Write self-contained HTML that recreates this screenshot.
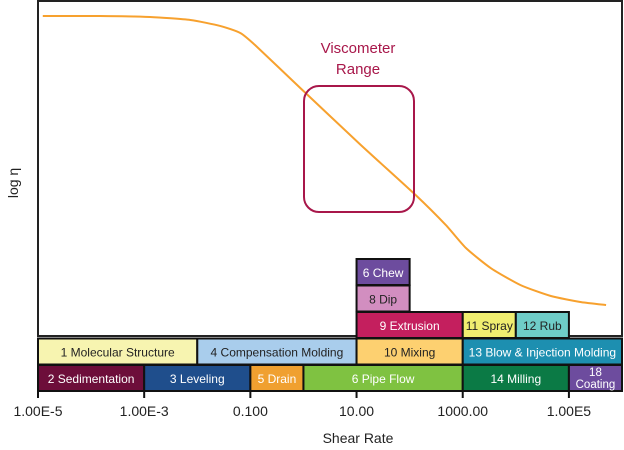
<!DOCTYPE html>
<html><head><meta charset="utf-8"><style>
body{margin:0;background:#fff;}
svg{display:block;font-family:"Liberation Sans",sans-serif;}
</style></head><body>
<svg id="c" width="624" height="450" viewBox="0 0 624 450"></svg>
<script>
// Data (log10 shear rate, relative log viscosity)
const tickDecades=[-5,-3,-1,1,3,5];
const tickLabels=["1.00E-5","1.00E-3","0.100","10.00","1000.00","1.00E5"];
const curveLogShear=[-4.91,-3.83,-2.89,-2.13,-1.57,-1.19,-0.91,-0.06,1.08,2.11,2.68,3.06,3.53,4.09,4.66,5.23,5.70];
const curveLogEta=[10,10,9.97,9.875,9.69,9.47,9.09,7.75,5.97,4.41,3.47,2.75,2.12,1.59,1.25,1.06,0.97];
const bandNames=["1 Molecular Structure","4 Compensation Molding","2 Sedimentation","3 Leveling","5 Drain","6 Pipe Flow","10 Mixing","13 Blow & Injection Molding","14 Milling","18|Coating","9 Extrusion","11 Spray","12 Rub","8 Dip","6 Chew"];
const bandStart=[-5,-2,-5,-3,-1,0,1,3,3,5,1,3,4,1,1];
const bandEnd=[-2,1,-3,-1,0,3,3,6,5,6,3,4,5,2,2];
const bandRow=[1,1,0,0,0,0,1,1,0,0,2,2,2,3,4];
const bandFill=["#f7f4b0","#a9cdec","#6d0e3a","#1f4e8c","#f0a030","#7fc241","#fdd070","#1d8fb0","#0b7a45","#6d4c9e","#c41f5e","#f0ee70","#6fcdc8","#d28ec0","#6d4c9e"];
const bandText=["#222","#222","#fff","#fff","#fff","#fff","#222","#fff","#fff","#fff","#fff","#222","#222","#222","#fff"];

const NS="http://www.w3.org/2000/svg";
const svg=document.getElementById('c');
const L=38,R=622,T=1,B=336;
const xs=d=>L+(d+5)*(R-L)/11;
const ys=v=>B-v*32;
const rowY=r=>365-r*26.5;
function mk(tag,attrs,parent){const e=document.createElementNS(NS,tag);for(const k in attrs)e.setAttribute(k,attrs[k]);(parent||svg).appendChild(e);return e;}

const frame=mk('rect',{x:L,y:T,width:R-L,height:B-T,fill:'none',stroke:'#222','stroke-width':2});



// curve
const pts=curveLogShear.map((d,i)=>[xs(d),ys(curveLogEta[i])]);
let dstr=`M${pts[0][0]},${pts[0][1]}`;
for(let i=0;i<pts.length-1;i++){
  const p0=pts[Math.max(0,i-1)],p1=pts[i],p2=pts[i+1],p3=pts[Math.min(pts.length-1,i+2)];
  const k=0.1;
  const c1=[p1[0]+(p2[0]-p0[0])*k,p1[1]+(p2[1]-p0[1])*k];
  const c2=[p2[0]-(p3[0]-p1[0])*k,p2[1]-(p3[1]-p1[1])*k];
  dstr+=` C${c1[0]},${c1[1]} ${c2[0]},${c2[1]} ${p2[0]},${p2[1]}`;
}
const curve=mk('path',{d:dstr,fill:'none',stroke:'#f7a12e','stroke-width':2});



const vb=mk('rect',{x:304,y:86,width:110,height:126,rx:15,fill:'none',stroke:'#a8174a','stroke-width':2});


const vt=mk('text',{x:358,y:53,'text-anchor':'middle','font-size':15,fill:'#a8174a'});vt.textContent='Viscometer';


const vt2=mk('text',{x:358,y:74,'text-anchor':'middle','font-size':15,fill:'#a8174a'});vt2.textContent='Range';



// bands
bandNames.forEach((n,i)=>{
  const x0=xs(bandStart[i]),x1=xs(bandEnd[i]),y=rowY(bandRow[i]);
  const g=mk('g',{});
  
  
  mk('rect',{x:x0,y:y,width:x1-x0,height:26,fill:bandFill[i],stroke:'#111','stroke-width':2},g);
  const parts=n.split('|');
  if(parts.length===1){
    const t=mk('text',{x:(x0+x1)/2,y:y+18,'text-anchor':'middle','font-size':12,fill:bandText[i]},g);t.textContent=n;
  }else{
    const t1=mk('text',{x:(x0+x1)/2,y:y+11,'text-anchor':'middle','font-size':11.5,fill:bandText[i]},g);t1.textContent=parts[0];
    const t2=mk('text',{x:(x0+x1)/2,y:y+23,'text-anchor':'middle','font-size':11.5,fill:bandText[i]},g);t2.textContent=parts[1];
  }
});
const ax=mk('line',{x1:L,y1:391,x2:R,y2:391,stroke:'#111','stroke-width':1});


tickDecades.forEach((d,i)=>{
  const tk=mk('line',{x1:xs(d),y1:391,x2:xs(d),y2:398,stroke:'#111','stroke-width':2});
  
  
  const t=mk('text',{x:xs(d),y:416,'text-anchor':'middle','font-size':14,fill:'#222'});
  t.textContent=tickLabels[i];
  
  
});
const xt=mk('text',{x:358,y:443,'text-anchor':'middle','font-size':14,fill:'#222'});xt.textContent='Shear Rate';


const yt=mk('text',{x:0,y:0,'text-anchor':'middle','font-size':14,fill:'#222',transform:'translate(18,183) rotate(-90)'});yt.textContent='log η';


</script>
</body></html>
